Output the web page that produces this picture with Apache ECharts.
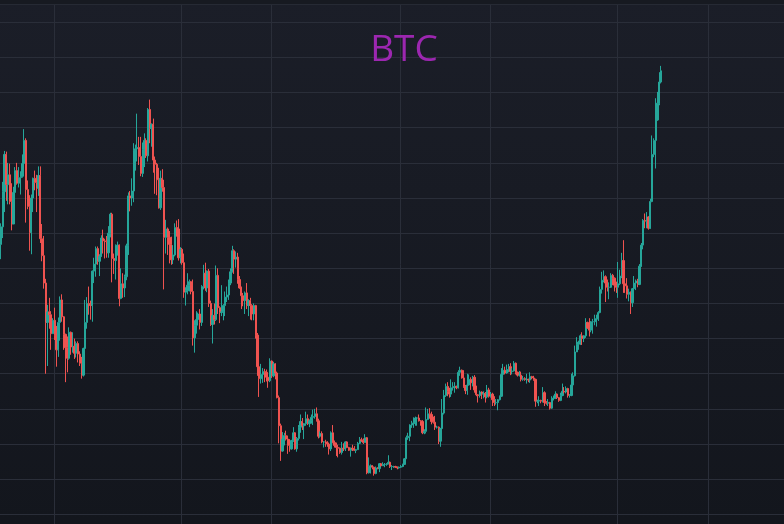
<!DOCTYPE html>
<html>
<head>
<meta charset="utf-8">
<script src="https://cdn.jsdelivr.net/npm/echarts@6/dist/echarts.min.js"></script>
<style>
html,body{margin:0;padding:0;background:#171a22;}
#c{width:784px;height:524px;}
</style>
</head>
<body>
<div id="c"></div>
<script>
// BTC/USD, 3-day candles starting 2021-03-05 (prices in thousands USD)
const startDate = '2021-03-05';
const binDays = 3;
const totalBins = 437;
const gridDates = ['2021-06-01','2022-01-01','2022-06-01','2023-01-01','2023-06-01','2024-01-01','2024-06-01'];
const priceTicks = {min: 10, max: 80, step: 5};

const open = [48.4,50.9,55.9,61.2,56.9,58.3,54.5,51.3,55.8,58.9,
57.1,57.9,58.1,59.9,63.2,56.2,53.8,50.1,55.0,57.8,
57.2,56.4,58.2,49.2,46.8,42.9,37.3,38.8,38.4,35.7,
37.6,35.5,33.4,37.3,40.5,38.1,35.6,33.7,32.2,35.9,
33.8,33.9,32.9,34.3,32.8,31.5,29.8,33.6,37.3,40.0,
39.9,39.7,44.6,45.6,47.8,46.0,46.7,49.3,48.9,48.8,
47.2,50.0,52.7,46.4,46.1,48.2,48.3,40.7,42.8,42.2,
43.8,48.2,55.3,55.0,56.0,61.7,62.0,62.2,60.9,58.5,
61.9,63.2,61.0,67.6,64.9,65.5,60.4,59.8,57.6,53.6,
57.8,56.5,49.4,50.6,49.4,48.4,46.2,46.9,50.8,50.6,
46.5,47.7,45.8,41.6,41.8,42.6,43.1,41.7,35.1,36.9,
37.7,38.5,37.3,42.4,44.3,42.2,44.6,40.0,37.0,38.3,
37.7,44.0,39.4,38.7,38.8,39.7,40.9,41.2,42.9,44.5,
47.5,46.3,46.6,43.4,42.2,41.1,40.4,41.5,39.7,40.4,
39.7,38.5,39.7,35.5,31.0,29.3,29.9,30.3,30.2,29.5,
29.0,31.8,29.7,31.4,30.1,26.6,22.6,19.0,20.7,21.2,
20.7,19.8,19.3,20.5,21.6,19.3,20.8,22.4,23.2,22.6,
22.9,23.6,22.9,23.3,23.8,23.9,24.3,23.3,21.1,21.5,
20.3,20.3,20.1,20.0,19.3,21.6,20.2,19.8,19.5,19.4,
18.8,19.4,19.3,20.3,19.5,19.1,19.4,19.3,19.1,19.2,
20.1,20.6,20.5,20.2,20.9,15.9,16.8,16.9,16.7,15.8,
16.6,16.5,17.2,16.9,17.1,17.1,17.2,17.4,16.8,16.8,
16.8,16.7,16.6,16.7,16.8,17.1,17.9,20.9,21.1,22.7,
22.9,23.0,23.7,23.7,23.3,23.2,21.6,21.8,23.5,24.3,
24.2,23.2,23.1,22.4,22.4,20.4,22.2,24.4,26.9,28.2,
27.5,27.1,28.0,28.2,28.2,28.0,30.2,30.5,29.4,28.2,
27.6,28.4,29.2,28.7,29.5,27.7,27.0,26.9,27.4,27.1,
27.2,26.7,27.7,26.8,27.1,26.3,25.9,25.9,26.3,26.8,
29.9,30.5,30.1,30.6,31.0,30.3,30.4,31.5,30.2,29.8,
29.8,29.2,29.3,29.2,29.2,29.1,29.6,29.4,29.2,26.1,
26.1,26.2,26.1,27.3,25.9,25.8,25.9,25.1,26.5,26.5,
27.1,26.6,26.2,26.9,27.5,27.4,27.9,26.9,26.9,28.4,
29.7,33.1,34.2,34.5,35.4,35.0,35.4,37.3,36.5,36.2,
37.4,37.4,37.8,37.8,38.7,42.0,43.3,43.8,42.9,42.3,
42.3,44.0,43.6,42.6,42.3,42.8,43.9,46.1,42.8,42.5,
41.3,41.6,40.1,42.1,42.9,43.2,42.7,45.3,48.3,51.8,
51.7,52.3,50.7,54.5,61.2,63.2,66.1,68.5,71.5];

const close = [50.9,55.9,61.2,56.9,58.3,54.5,51.3,55.8,58.9,57.1,
57.9,58.1,59.9,63.2,56.2,53.8,50.1,55.0,57.8,57.2,
56.4,58.2,49.2,46.8,42.9,37.3,38.8,38.4,35.7,37.6,
35.5,33.4,37.3,40.5,38.1,35.6,33.7,32.2,35.9,33.8,
33.9,32.9,34.3,32.8,31.5,29.8,33.6,37.3,40.0,39.9,
39.7,44.6,45.6,47.8,46.0,46.7,49.3,48.9,48.8,47.2,
50.0,52.7,46.4,46.1,48.2,48.3,40.7,42.8,42.2,43.8,
48.2,55.3,55.0,56.0,61.7,62.0,62.2,60.9,58.5,61.9,
63.2,61.0,67.6,64.9,65.5,60.4,59.8,57.6,53.6,57.8,
56.5,49.4,50.6,49.4,48.4,46.2,46.9,50.8,50.6,46.5,
47.7,45.8,41.6,41.8,42.6,43.1,41.7,35.1,36.9,37.7,
38.5,37.3,42.4,44.3,42.2,44.6,40.0,37.0,38.3,37.7,
44.0,39.4,38.7,38.8,39.7,40.9,41.2,42.9,44.5,47.5,
46.3,46.6,43.4,42.2,41.1,40.4,41.5,39.7,40.4,39.7,
38.5,39.7,35.5,31.0,29.3,29.9,30.3,30.2,29.5,29.0,
31.8,29.7,31.4,30.1,26.6,22.6,19.0,20.7,21.2,20.7,
19.8,19.3,20.5,21.6,19.3,20.8,22.4,23.2,22.6,22.9,
23.6,22.9,23.3,23.8,23.9,24.3,23.3,21.1,21.5,20.3,
20.3,20.1,20.0,19.3,21.6,20.2,19.8,19.5,19.4,18.8,
19.4,19.3,20.3,19.5,19.1,19.4,19.3,19.1,19.2,20.1,
20.6,20.5,20.2,20.9,15.9,16.8,16.9,16.7,15.8,16.6,
16.5,17.2,16.9,17.1,17.1,17.2,17.4,16.8,16.8,16.8,
16.7,16.6,16.7,16.8,17.1,17.9,20.9,21.1,22.7,22.9,
23.0,23.7,23.7,23.3,23.2,21.6,21.8,23.5,24.3,24.2,
23.2,23.1,22.4,22.4,20.4,22.2,24.4,26.9,28.2,27.5,
27.1,28.0,28.2,28.2,28.0,30.2,30.5,29.4,28.2,27.6,
28.4,29.2,28.7,29.5,27.7,27.0,26.9,27.4,27.1,27.2,
26.7,27.7,26.8,27.1,26.3,25.9,25.9,26.3,26.8,29.9,
30.5,30.1,30.6,31.0,30.3,30.4,31.5,30.2,29.8,29.8,
29.2,29.3,29.2,29.2,29.1,29.6,29.4,29.2,26.1,26.1,
26.2,26.1,27.3,25.9,25.8,25.9,25.1,26.5,26.5,27.1,
26.6,26.2,26.9,27.5,27.4,27.9,26.9,26.9,28.4,29.7,
33.1,34.2,34.5,35.4,35.0,35.4,37.3,36.5,36.2,37.4,
37.4,37.8,37.8,38.7,42.0,43.3,43.8,42.9,42.3,42.3,
44.0,43.6,42.6,42.3,42.8,43.9,46.1,42.8,42.5,41.3,
41.6,40.1,42.1,42.9,43.2,42.7,45.3,48.3,51.8,51.7,
52.3,50.7,54.5,61.2,63.2,66.1,68.5,71.5,73.1];

const low = [46.3,49.3,53.0,54.6,54.1,54.1,50.4,51.3,55.8,56.9,
56.5,55.5,57.9,61.4,51.5,53.4,47.5,47.0,53.0,56.1,
53.0,55.3,48.6,46.0,42.1,30.0,31.1,36.4,33.4,35.7,
34.8,31.0,32.4,34.7,37.4,33.4,28.8,30.2,32.0,32.7,
33.0,32.1,32.3,31.6,31.1,29.3,29.6,33.5,36.4,38.4,
37.7,37.4,42.9,43.8,45.5,43.9,46.6,47.1,46.4,46.5,
46.5,49.4,43.0,44.2,43.4,46.8,39.6,40.6,40.8,40.9,
43.3,46.9,53.1,53.9,54.4,58.9,60.2,59.7,58.1,58.0,
59.4,60.7,60.2,62.8,62.3,58.6,55.6,55.4,53.5,53.3,
55.9,42.0,47.1,46.9,45.7,45.5,45.6,46.7,49.5,46.1,
45.7,45.5,40.8,39.7,41.3,41.7,41.3,34.0,33.0,35.7,
37.4,36.3,36.8,42.0,41.8,41.6,39.5,36.8,34.3,37.0,
37.5,38.5,37.2,38.2,37.6,38.2,40.2,40.5,42.6,44.4,
44.2,45.1,42.8,42.1,39.2,39.6,38.5,39.2,38.2,37.7,
37.6,37.6,35.0,29.7,26.7,28.6,28.7,28.8,28.9,28.0,
28.8,29.4,29.5,29.2,26.5,20.1,17.6,18.9,19.8,20.5,
18.6,18.9,19.2,20.3,19.2,18.9,20.5,21.6,22.0,20.7,
22.6,22.7,22.4,22.9,22.7,23.6,23.2,20.8,20.9,20.1,
19.5,19.6,19.6,18.5,19.0,20.1,19.5,18.3,18.1,18.6,
18.5,19.0,19.0,19.4,19.0,18.2,19.0,19.0,18.7,19.2,
20.0,20.3,20.0,20.2,15.7,15.8,15.8,16.4,15.5,15.7,
16.4,16.0,16.8,16.9,16.7,16.9,17.1,16.6,16.3,16.6,
16.6,16.4,16.5,16.6,16.7,17.1,17.9,20.6,20.4,22.3,
22.3,22.6,22.6,23.2,22.6,21.4,21.4,21.5,23.4,23.6,
22.8,22.9,22.0,22.2,20.0,19.6,21.9,24.2,26.7,26.8,
26.6,26.7,27.6,27.3,27.8,27.9,29.7,29.3,28.0,27.1,
27.0,28.3,27.7,28.2,27.3,26.8,25.9,26.6,26.4,26.5,
25.9,26.5,26.6,26.6,25.4,25.4,25.6,24.8,26.2,26.7,
29.8,29.9,30.0,30.2,29.8,29.9,30.3,29.9,29.6,29.6,
28.9,29.0,29.0,28.6,28.8,28.7,29.2,29.0,25.3,25.8,
25.4,25.8,25.9,25.4,25.6,25.4,24.9,25.0,26.2,26.4,
26.4,26.0,26.1,26.8,27.2,27.2,26.6,26.6,26.8,28.1,
29.6,33.4,33.4,34.1,34.1,34.5,35.1,36.4,35.3,35.9,
35.7,36.9,36.7,37.5,38.6,41.4,43.0,40.2,41.7,40.6,
42.2,42.6,41.7,41.5,40.8,42.6,43.6,41.5,41.5,40.7,
40.3,38.5,39.5,41.8,41.9,42.3,42.6,45.2,47.7,50.7,
50.7,50.5,50.6,54.4,60.8,59.2,66.0,68.2,71.3];

const high = [51.4,57.3,61.7,61.6,60.0,59.9,57.1,56.6,59.4,60.0,
59.4,58.8,61.2,64.8,63.5,57.5,55.4,55.5,57.9,58.9,
58.3,59.5,59.5,51.3,49.6,43.5,39.8,40.8,38.9,37.9,
39.4,36.8,38.0,41.0,41.3,38.2,35.7,35.3,36.6,36.0,
35.9,35.0,34.6,34.6,33.2,32.4,33.7,40.5,40.9,42.4,
40.4,44.7,46.5,48.1,48.1,47.0,49.7,50.5,49.2,49.6,
51.0,52.9,52.9,47.1,48.4,48.8,48.4,45.0,44.3,44.1,
48.5,55.8,56.0,57.8,62.8,62.6,67.0,63.7,63.7,62.9,
64.2,63.5,67.8,69.0,65.6,66.3,60.9,60.0,59.3,58.9,
59.1,57.6,51.9,50.8,50.3,49.5,48.3,51.4,51.8,52.0,
48.0,47.9,47.1,42.3,44.3,43.4,43.2,43.4,37.6,38.9,
38.7,39.2,42.6,45.5,45.8,44.7,44.9,40.4,39.2,40.0,
45.4,45.0,39.6,42.6,39.9,41.7,42.4,43.4,45.0,48.2,
47.7,47.4,47.2,43.9,42.4,41.5,41.7,42.9,40.6,40.8,
39.9,40.0,39.8,35.8,32.0,31.4,30.8,30.7,30.6,29.8,
32.2,31.9,31.7,31.5,30.3,26.9,22.9,21.7,21.6,21.9,
21.2,20.7,20.6,22.4,21.7,21.0,22.7,24.2,23.7,23.0,
24.6,24.2,23.5,24.2,24.9,25.0,25.2,23.6,21.8,21.8,
20.4,20.6,20.4,20.2,21.8,22.7,20.5,20.2,19.9,19.5,
20.3,20.1,20.4,20.4,19.6,19.5,19.9,19.7,19.3,20.3,
21.0,20.9,20.8,21.4,21.0,18.1,17.1,17.0,16.8,16.8,
16.7,17.3,17.3,17.4,17.3,17.3,18.4,17.5,17.0,16.9,
16.9,16.8,16.8,17.0,17.2,18.0,21.2,21.6,22.8,23.3,
23.8,23.9,23.8,24.2,23.4,23.4,22.1,25.2,25.0,25.1,
24.6,23.9,24.0,22.6,22.5,22.3,26.4,27.7,28.6,28.8,
28.0,29.2,28.8,28.8,28.3,30.5,31.0,30.6,30.5,28.4,
30.0,29.9,29.5,29.7,29.8,28.3,27.1,27.6,27.5,27.5,
27.4,28.4,28.0,27.4,27.3,26.8,26.4,26.4,26.9,30.8,
31.4,31.0,31.3,31.4,31.5,30.8,31.8,31.6,30.3,30.4,
30.3,29.7,29.5,30.0,29.3,30.2,29.7,29.7,29.3,26.3,
26.8,26.3,28.1,27.5,26.1,26.4,26.0,26.8,26.9,27.5,
27.2,26.7,27.3,28.6,28.1,28.2,28.0,27.1,30.0,30.2,
34.0,35.2,34.7,35.6,35.9,35.5,37.9,37.4,37.9,37.5,
37.8,38.4,38.4,38.9,42.4,44.5,44.7,44.0,43.4,43.0,
44.3,44.2,43.7,43.1,45.9,44.8,47.2,49.0,43.3,43.6,
42.1,41.7,42.2,43.9,43.4,43.5,45.6,48.6,52.0,52.8,
53.0,52.4,54.9,63.9,63.5,69.2,70.1,72.9,73.8];

// ---- build categories (bin start dates) ----
const DAY = 86400000;
const t0 = Date.parse(startDate + 'T00:00:00Z');
const categories = [];
for (let i = 0; i < totalBins; i++) {
  categories.push(new Date(t0 + i * binDays * DAY).toISOString().slice(0, 10));
}
// vertical grid lines: first bin starting on/after each mark date
const lineSet = new Set(gridDates.map(d => Math.ceil((Date.parse(d + 'T00:00:00Z') - t0) / DAY / binDays)));

const candles = open.map((o, i) => [o, close[i], low[i], high[i]]);

const W = 784, H = 524;
const GRID_COLOR = '#2a2e39';
const UP = '#26a69a', DOWN = '#ef5350';

const chart = echarts.init(document.getElementById('c'), null, {renderer: 'canvas'});
chart.setOption({
  animation: false,
  backgroundColor: {
    type: 'linear', x: 0, y: 0, x2: 0, y2: 1,
    colorStops: [{offset: 0, color: '#1b1e28'}, {offset: 1, color: '#13161d'}]
  },
  grid: [
    {left: 0, right: 0, top: 22.3, bottom: 9.7, containLabel: false},
    {left: 0, right: 0, top: 5, bottom: 0, containLabel: false}
  ],
  xAxis: [
    {gridIndex: 0, type: 'category', data: categories, boundaryGap: true,
     axisLine: {show: false}, axisTick: {show: false}, axisLabel: {show: false}, splitLine: {show: false}},
    {gridIndex: 1, type: 'category', data: categories, boundaryGap: true,
     axisLine: {show: false}, axisTick: {show: false}, axisLabel: {show: false},
     splitLine: {show: true, interval: (idx) => lineSet.has(idx), lineStyle: {color: GRID_COLOR, width: 1}}}
  ],
  yAxis: [
    {gridIndex: 0, type: 'value', min: priceTicks.min, max: priceTicks.max, interval: priceTicks.step,
     axisLine: {show: false}, axisTick: {show: false}, axisLabel: {show: false},
     splitLine: {show: true, lineStyle: {color: GRID_COLOR, width: 1}}},
    {gridIndex: 1, type: 'value', min: 0, max: 1,
     axisLine: {show: false}, axisTick: {show: false}, axisLabel: {show: false}, splitLine: {show: false}}
  ],
  series: [{
    type: 'candlestick',
    xAxisIndex: 0, yAxisIndex: 0,
    data: candles,
    barWidth: 1.7,
    itemStyle: {
      color: UP, color0: DOWN,
      borderColor: UP, borderColor0: DOWN, borderColorDoji: UP,
      borderWidth: 1
    }
  }],
  graphic: [
    {type: 'rect', z: 100, shape: {x: 0, y: 0, width: W, height: 4}, style: {fill: '#171a21'}},
    {type: 'line', z: 100, shape: {x1: 0, y1: 4.5, x2: W, y2: 4.5}, style: {stroke: '#262a34', lineWidth: 1}},
    {type: 'text', z: 100, x: 404, y: 50.5,
     style: {text: 'BTC', fill: '#9c27b0', font: '37px "Open Sans"', textAlign: 'center', textVerticalAlign: 'middle'}}
  ]
});
</script>
</body>
</html>
